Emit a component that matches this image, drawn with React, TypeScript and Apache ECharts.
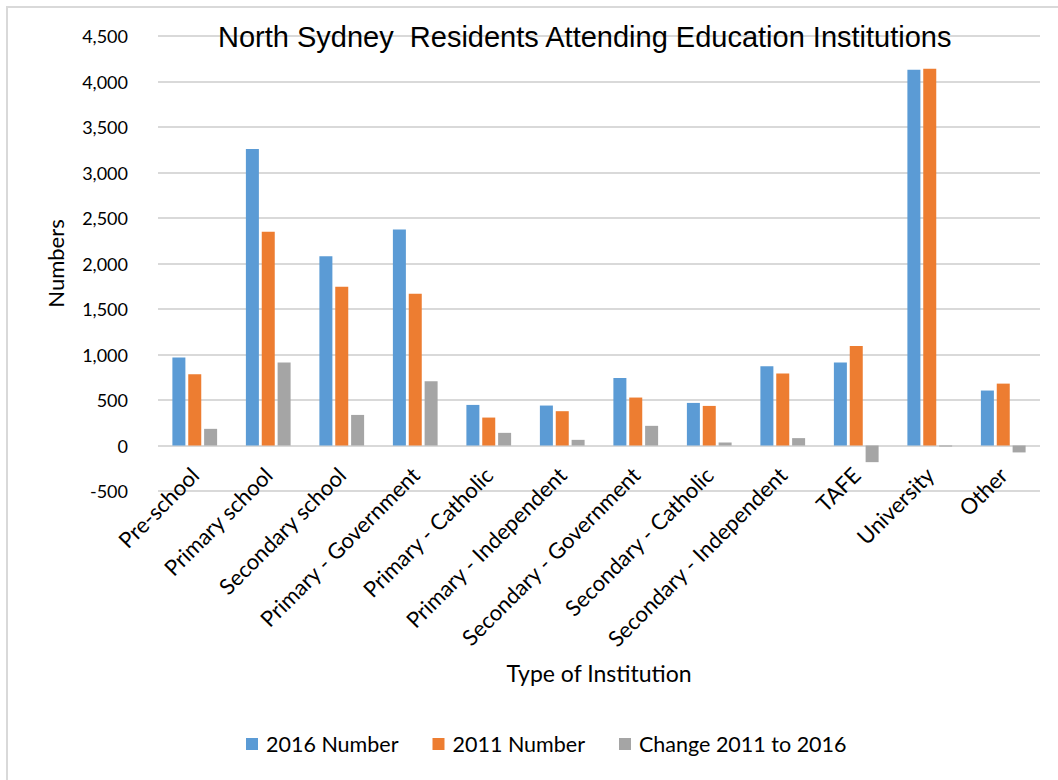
import React, { useEffect, useRef } from "react";
import * as echarts from "echarts";

const categories = [
  "Pre-school",
  "Primary school",
  "Secondary school",
  "Primary - Government",
  "Primary - Catholic",
  "Primary - Independent",
  "Secondary - Government",
  "Secondary - Catholic",
  "Secondary - Independent",
  "TAFE",
  "University",
  "Other",
];
const number2016 = [966, 3259, 2081, 2374, 446, 439, 743, 468, 871, 911, 4130, 604];
const number2011 = [783, 2348, 1745, 1668, 307, 377, 527, 435, 790, 1094, 4141, 680];
const change = [183, 911, 336, 706, 139, 62, 216, 33, 81, -183, -11, -76];

const FONT = "Lato, 'Open Sans', sans-serif";

export default function App() {
  const ref = useRef<HTMLDivElement>(null);
  useEffect(() => {
    if (!ref.current) return;
    const chart = echarts.init(ref.current, undefined, { renderer: "svg" });
    const barBase = { type: "bar" as const, barWidth: 13, barGap: "22%" };
    chart.setOption({
      animation: false,
      backgroundColor: "#ffffff",
      title: {
        text: "North Sydney  Residents Attending Education Institutions",
        left: 213,
        top: 17,
        textStyle: {
          fontFamily: "'Liberation Sans', Arial, sans-serif",
          fontWeight: "normal",
          fontSize: 29,
          color: "#000000",
        },
      },
      legend: {
        bottom: 20,
        left: 241,
        itemWidth: 12,
        itemHeight: 12,
        itemGap: 34,
        icon: "rect",
        textStyle: { fontFamily: FONT, fontSize: 21.5, color: "#000000", padding: [0, 0, 0, 3] },
        data: ["2016 Number", "2011 Number", "Change 2011 to 2016"],
      },
      grid: { left: 158, right: 18, top: 36, bottom: 289, containLabel: false },
      xAxis: {
        type: "category",
        data: categories,
        axisLine: { show: false, onZero: false },
        axisTick: { show: false },
        axisLabel: {
          rotate: 45,
          interval: 0,
          margin: -20,
          fontFamily: FONT,
          fontSize: 22,
          color: "#000000",
        },
        name: "Type of Institution",
        nameLocation: "middle",
        nameGap: 170,
        nameTextStyle: { fontFamily: FONT, fontSize: 23, color: "#000000" },
      },
      yAxis: {
        type: "value",
        min: -500,
        max: 4500,
        interval: 500,
        axisLine: { show: false },
        axisTick: { show: false },
        splitLine: { lineStyle: { color: "#d9d9d9", width: 2 } },
        axisLabel: {
          margin: 30,
          fontFamily: FONT,
          fontSize: 18,
          color: "#000000",
          formatter: (v: number) => v.toLocaleString("en-US"),
        },
        name: "Numbers",
        nameLocation: "middle",
        nameGap: 92,
        nameTextStyle: { fontFamily: FONT, fontSize: 22, color: "#000000" },
      },
      series: [
        { ...barBase, name: "2016 Number", data: number2016, itemStyle: { color: "#5B9BD5" } },
        { ...barBase, name: "2011 Number", data: number2011, itemStyle: { color: "#ED7D31" } },
        { ...barBase, name: "Change 2011 to 2016", data: change, itemStyle: { color: "#A5A5A5" } },
      ],
      graphic: [
        { type: "line", shape: { x1: 6, y1: 7, x2: 1058, y2: 7 }, style: { stroke: "#d9d9d9", lineWidth: 2 } },
        { type: "line", shape: { x1: 7, y1: 7, x2: 7, y2: 780 }, style: { stroke: "#d9d9d9", lineWidth: 2 } },
      ],
    });
    return () => chart.dispose();
  }, []);
  return (
    <div
      ref={ref}
      style={{ position: "fixed", left: 0, top: 0, width: 1058, height: 780, background: "#fff" }}
    />
  );
}
